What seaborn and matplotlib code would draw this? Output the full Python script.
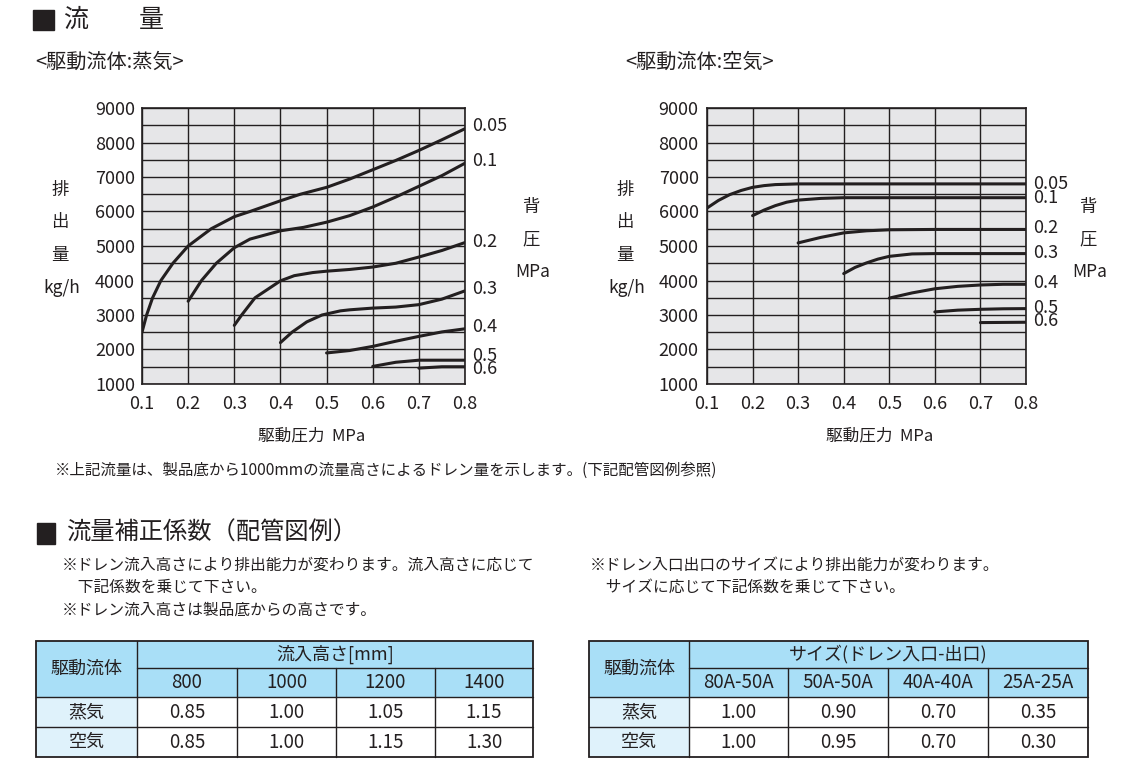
import numpy as np
import pandas as pd
import seaborn as sns
import matplotlib.pyplot as plt
from matplotlib.patches import Rectangle
from matplotlib.ticker import MultipleLocator

# back pressure labels (MPa)
back_pressures = ['0.05', '0.1', '0.2', '0.3', '0.4', '0.5', '0.6']

# steam: drain flow (kg/h) vs driving pressure (MPa), one list per back pressure
steam_x = [
    [0.1, 0.11, 0.123, 0.141, 0.167, 0.2, 0.25, 0.3, 0.334, 0.4, 0.443, 0.5, 0.55, 0.6, 0.65, 0.7, 0.75, 0.8],
    [0.2, 0.229, 0.261, 0.3, 0.334, 0.4, 0.45, 0.5, 0.55, 0.6, 0.65, 0.7, 0.75, 0.8],
    [0.3, 0.316, 0.345, 0.4, 0.43, 0.47, 0.5, 0.55, 0.6, 0.65, 0.7, 0.75, 0.8],
    [0.4, 0.425, 0.457, 0.49, 0.53, 0.55, 0.6, 0.65, 0.7, 0.75, 0.8],
    [0.5, 0.55, 0.6, 0.65, 0.7, 0.75, 0.8],
    [0.6, 0.65, 0.7, 0.75, 0.8],
    [0.7, 0.75, 0.8],
]
steam_y = [
    [2500, 3000, 3500, 4000, 4500, 5000, 5500, 5850, 6000, 6310, 6500, 6700, 6940, 7210, 7480, 7770, 8080, 8400],
    [3400, 4000, 4500, 4950, 5200, 5440, 5540, 5690, 5880, 6130, 6420, 6730, 7040, 7400],
    [2700, 3000, 3500, 3990, 4140, 4230, 4270, 4320, 4390, 4500, 4680, 4870, 5100],
    [2200, 2500, 2800, 3000, 3120, 3150, 3200, 3230, 3300, 3460, 3700],
    [1900, 1970, 2090, 2240, 2380, 2510, 2600],
    [1510, 1630, 1690, 1690, 1690],
    [1460, 1500, 1500],
]
steam_label_y = [8470, 7450, 5110, 3750, 2640, 1820, 1430]

# air
air_x = [
    [0.1, 0.125, 0.15, 0.175, 0.2, 0.225, 0.25, 0.3, 0.4, 0.5, 0.6, 0.7, 0.8],
    [0.2, 0.225, 0.25, 0.275, 0.3, 0.35, 0.4, 0.5, 0.6, 0.7, 0.8],
    [0.3, 0.35, 0.4, 0.45, 0.5, 0.6, 0.7, 0.8],
    [0.4, 0.425, 0.45, 0.475, 0.5, 0.55, 0.6, 0.7, 0.8],
    [0.5, 0.55, 0.6, 0.65, 0.7, 0.75, 0.8],
    [0.6, 0.65, 0.7, 0.75, 0.8],
    [0.7, 0.8],
]
air_y = [
    [6100, 6320, 6490, 6610, 6700, 6750, 6780, 6800, 6800, 6800, 6800, 6800, 6800],
    [5880, 6040, 6170, 6270, 6330, 6380, 6400, 6400, 6400, 6400, 6400],
    [5090, 5250, 5380, 5440, 5470, 5480, 5480, 5480],
    [4200, 4380, 4510, 4620, 4700, 4770, 4780, 4780, 4780],
    [3490, 3640, 3760, 3830, 3870, 3890, 3890],
    [3090, 3140, 3165, 3180, 3185],
    [2780, 2790],
]
air_label_y = [6800, 6390, 5520, 4800, 3930, 3200, 2820]

# correction factor tables
fluids = ['蒸気', '空気']
inflow_heights = ['800', '1000', '1200', '1400']
height_steam = ['0.85', '1.00', '1.05', '1.15']
height_air = ['0.85', '1.00', '1.15', '1.30']
port_sizes = ['80A-50A', '50A-50A', '40A-40A', '25A-25A']
size_steam = ['1.00', '0.90', '0.70', '0.35']
size_air = ['1.00', '0.95', '0.70', '0.30']

W, H = 1129, 769
INK = '#231f20'
PANEL = '#e6e6e8'
HEAD_BLUE = '#a9dff7'
ROW_BLUE = '#dff2fb'

sns.set_style('white')
plt.rcParams['font.family'] = ['Noto Sans CJK JP', 'DejaVu Sans']

fig = plt.figure(figsize=(W / 100, H / 100), dpi=100)
bg = fig.add_axes([0, 0, 1, 1])
bg.set_xlim(0, W)
bg.set_ylim(H, 0)
bg.axis('off')


def px_axes(x0, y0, x1, y1):
    return fig.add_axes([x0 / W, 1 - y1 / H, (x1 - x0) / W, (y1 - y0) / H])


def flow_chart(ax, xs, ys, label_y, tick_pad):
    rows = []
    for bp, cx, cy in zip(back_pressures, xs, ys):
        for a, b in zip(cx, cy):
            rows.append((bp, a, b))
    df = pd.DataFrame(rows, columns=['bp', 'pressure', 'flow'])
    sns.lineplot(data=df, x='pressure', y='flow', hue='bp', palette=[INK] * len(back_pressures),
                 estimator=None, sort=False, legend=False, lw=2.2, ax=ax)
    ax.set_facecolor(PANEL)
    ax.set_xlim(0.1, 0.8)
    ax.set_ylim(1000, 9000)
    ax.xaxis.set_major_locator(MultipleLocator(0.1))
    ax.yaxis.set_major_locator(MultipleLocator(1000))
    ax.yaxis.set_minor_locator(MultipleLocator(500))
    ax.set_xticklabels([f'{v:.1f}' for v in ax.get_xticks()])
    ax.grid(True, which='both', color=INK, lw=1.0)
    ax.set_axisbelow(True)
    for s in ax.spines.values():
        s.set_color(INK)
        s.set_linewidth(1.2)
    ax.tick_params(axis='both', which='both', length=0, labelsize=13, colors=INK)
    ax.tick_params(axis='y', pad=tick_pad)
    ax.tick_params(axis='x', pad=8)
    ax.set_xlabel('')
    ax.set_ylabel('')
    for bp, ly in zip(back_pressures, label_y):
        ax.text(0.816, ly, bp, fontsize=13, ha='left', va='center', color=INK, clip_on=False)


ax1 = px_axes(142, 108, 465, 384)
flow_chart(ax1, steam_x, steam_y, steam_label_y, 5)
ax2 = px_axes(707, 108, 1026, 384)
flow_chart(ax2, air_x, air_y, air_label_y, 6)

# titles
bg.add_patch(Rectangle((33, 10), 21, 20, color=INK))
bg.text(64, 20, '流　　量', fontsize=18, va='center', ha='left', color=INK)
bg.text(35, 62, '<駆動流体:蒸気>', fontsize=14.5, va='center', ha='left', color=INK)
bg.text(625, 62, '<駆動流体:空気>', fontsize=14.5, va='center', ha='left', color=INK)

# axis captions
for xl, xr, xc in [(60, 531, 312), (625, 1088, 880)]:
    for txt, yy in [('排', 190), ('出', 222), ('量', 255), ('kg/h', 288)]:
        bg.text(xl + (2 if txt == 'kg/h' else 0), yy, txt, fontsize=12.5, ha='center', va='center', color=INK)
    for txt, yy in [('背', 207), ('圧', 239), ('MPa', 272)]:
        bg.text(xr + (2 if txt == 'MPa' else 0), yy, txt, fontsize=12.5, ha='center', va='center', color=INK)
    bg.text(xc, 436, '駆動圧力  MPa', fontsize=12, ha='center', va='center', color=INK)

bg.text(55, 470, '※上記流量は、製品底から1000mmの流量高さによるドレン量を示します。(下記配管図例参照)',
        fontsize=11.2, va='center', ha='left', color=INK)

# second section
bg.add_patch(Rectangle((37, 523), 18, 21, color=INK))
bg.text(66, 533, '流量補正係数（配管図例）', fontsize=17.5, va='center', ha='left', color=INK)
notes_left = ['※ドレン流入高さにより排出能力が変わります。流入高さに応じて',
              '　下記係数を乗じて下さい。',
              '※ドレン流入高さは製品底からの高さです。']
notes_right = ['※ドレン入口出口のサイズにより排出能力が変わります。',
               '　サイズに応じて下記係数を乗じて下さい。']
for i, t in enumerate(notes_left):
    bg.text(62, 565 + i * 22.5, t, fontsize=11.3, va='center', ha='left', color=INK)
for i, t in enumerate(notes_right):
    bg.text(590, 565 + i * 22.5, t, fontsize=11.3, va='center', ha='left', color=INK)


def draw_table(xe, group_title, cols, steam_vals, air_vals):
    ye = [641, 668, 697, 727, 757]
    # fills
    bg.add_patch(Rectangle((xe[0], ye[0]), xe[-1] - xe[0], ye[2] - ye[0], color=HEAD_BLUE, lw=0))
    bg.add_patch(Rectangle((xe[0], ye[2]), xe[1] - xe[0], ye[4] - ye[2], color=ROW_BLUE, lw=0))
    bg.add_patch(Rectangle((xe[1], ye[2]), xe[-1] - xe[1], ye[4] - ye[2], color='white', lw=0))
    # lines
    bg.add_patch(Rectangle((xe[0], ye[0]), xe[-1] - xe[0], ye[4] - ye[0], fill=False, ec=INK, lw=1.3))
    bg.plot([xe[1], xe[1]], [ye[0], ye[4]], color=INK, lw=1.0)
    bg.plot([xe[1], xe[-1]], [ye[1], ye[1]], color=INK, lw=1.0)
    for x in xe[2:-1]:
        bg.plot([x, x], [ye[1], ye[4]], color=INK, lw=1.0)
    for y in ye[2:4]:
        bg.plot([xe[0], xe[-1]], [y, y], color=INK, lw=1.0)
    # text
    fs = 13.5
    bg.text((xe[0] + xe[1]) / 2, (ye[0] + ye[2]) / 2, '駆動流体', fontsize=13, ha='center', va='center', color=INK)
    bg.text((xe[1] + xe[-1]) / 2, (ye[0] + ye[1]) / 2, group_title, fontsize=13, ha='center', va='center', color=INK)
    for i, c in enumerate(cols):
        xc = (xe[i + 1] + xe[i + 2]) / 2
        bg.text(xc, (ye[1] + ye[2]) / 2, c, fontsize=fs, ha='center', va='center', color=INK)
        bg.text(xc, (ye[2] + ye[3]) / 2, steam_vals[i], fontsize=fs, ha='center', va='center', color=INK)
        bg.text(xc, (ye[3] + ye[4]) / 2, air_vals[i], fontsize=fs, ha='center', va='center', color=INK)
    for j, f in enumerate(fluids):
        bg.text((xe[0] + xe[1]) / 2, (ye[2 + j] + ye[3 + j]) / 2, f, fontsize=13, ha='center', va='center', color=INK)


draw_table([36, 137, 237, 336, 435, 533], '流入高さ[mm]', inflow_heights, height_steam, height_air)
draw_table([589, 689, 788, 888, 988, 1088], 'サイズ(ドレン入口-出口)', port_sizes, size_steam, size_air)

fig.savefig('out.png', dpi=100)
